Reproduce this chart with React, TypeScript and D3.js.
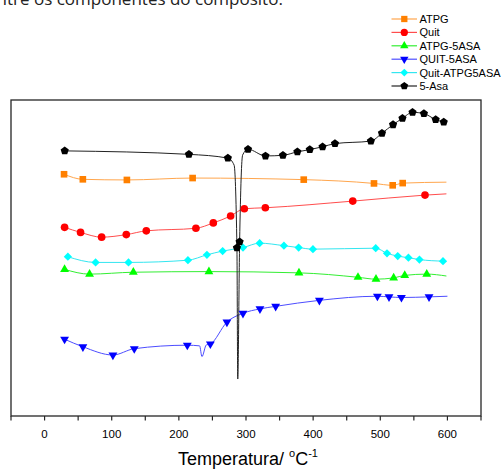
import React from "react";
import * as d3 from "d3";

// ---- data (temperature °C, arbitrary signal units 0..100) ----
const atpgT = [29, 57, 122.6, 220.5, 386, 490.6, 518.5, 533.4];
const atpgV = [76.5, 74.9, 74.7, 75.3, 74.8, 73.6, 73.0, 73.7];
const atpgExtraT = [598.5];
const atpgExtraV = [74.0];

const quitT = [29.8, 53.6, 85, 121.7, 151.5, 225.4, 251.3, 277.1, 297.5, 328.8, 459, 566.6];
const quitV = [59.7, 58.1, 56.6, 57.4, 58.6, 59.4, 61.1, 63.3, 65.6, 65.9, 68.0, 69.9];
const quitExtraT = [598.5];
const quitExtraV = [70.3];

const atpg5T = [29.8, 67, 132.2, 244.8, 378.9, 466.8, 493.6, 519.9, 536.4, 569.2];
const atpg5V = [46.4, 44.9, 45.5, 45.7, 45.3, 43.9, 43.3, 43.7, 44.5, 44.9];
const atpg5ExtraT = [598.5];
const atpg5ExtraV = [44.3];

const quit5T = [29.8, 57.1, 101.8, 133.6, 212.6, 246.9, 271.6, 295.5, 320.8, 344.2, 409.3, 495.7, 513, 531.5, 572.6];
const quit5V = [24.3, 21.9, 19.3, 21.3, 22.4, 22.8, 29.7, 32.5, 33.9, 34.7, 36.6, 37.9, 37.7, 37.5, 37.7];
const quit5ExtraT = [230.9, 234.4, 240.9, 600];
const quit5ExtraV = [22.2, 18.8, 22.5, 37.9];

const mixT = [34.7, 76, 125, 213.5, 241.8, 265.2, 295.5, 320.3, 356.5, 378.4, 399.7, 493.2, 510, 526, 541.9, 558.3, 593.4];
const mixV = [50.4, 48.6, 48.6, 49.3, 51.0, 52.2, 53.3, 54.7, 53.9, 53.3, 52.8, 53.1, 51.5, 50.6, 50.1, 49.5, 49.0];
const mixExtraT: number[] = [];
const mixExtraV: number[] = [];

const asaT = [30, 215, 273, 286.5, 290.5, 303, 329, 355, 376.5, 395, 414, 432.5, 486, 502.5, 519, 533, 548, 565, 582.5, 594.5];
const asaV = [83.9, 82.8, 81.6, 53.2, 55.1, 84.4, 82.3, 82.5, 83.6, 84.3, 85.2, 86.2, 87.0, 89.5, 92.2, 94.2, 96.1, 95.7, 93.8, 93.0];
const asaExtraT = [282.3, 287.7, 295];
const asaExtraV = [79.4, 11.7, 82.6];

const xTicks = [-50, 0, 50, 100, 150, 200, 250, 300, 350, 400, 450, 500, 550, 600, 650];
const xLabels = [0, 100, 200, 300, 400, 500, 600];

const legendNames = ["ATPG", "Quit", "ATPG-5ASA", "QUIT-5ASA", "Quit-ATPG5ASA", "5-Asa"];

// ---- symbols ----
const pentagon = {
  draw(ctx: any, size: number) {
    const r = Math.sqrt(size / 2.378);
    for (let i = 0; i < 5; i++) {
      const a = -Math.PI / 2 + (i * 2 * Math.PI) / 5;
      const px = r * Math.cos(a), py = r * Math.sin(a);
      if (i === 0) ctx.moveTo(px, py); else ctx.lineTo(px, py);
    }
    ctx.closePath();
  },
};

type Series = {
  name: string; t: number[]; v: number[]; et: number[]; ev: number[];
  color: string; lineColor: string; symbol: any; size: number; rotate: number;
};

const series: Series[] = [
  { name: legendNames[0], t: atpgT, v: atpgV, et: atpgExtraT, ev: atpgExtraV, color: "#FF8000", lineColor: "#FFA64D", symbol: d3.symbolSquare, size: 44, rotate: 0 },
  { name: legendNames[1], t: quitT, v: quitV, et: quitExtraT, ev: quitExtraV, color: "#FF0000", lineColor: "#FF4D4D", symbol: d3.symbolCircle, size: 46, rotate: 0 },
  { name: legendNames[2], t: atpg5T, v: atpg5V, et: atpg5ExtraT, ev: atpg5ExtraV, color: "#00FF00", lineColor: "#33EE33", symbol: d3.symbolTriangle, size: 34, rotate: 0 },
  { name: legendNames[3], t: quit5T, v: quit5V, et: quit5ExtraT, ev: quit5ExtraV, color: "#0000FF", lineColor: "#4D4DFF", symbol: d3.symbolTriangle, size: 34, rotate: 180 },
  { name: legendNames[4], t: mixT, v: mixV, et: mixExtraT, ev: mixExtraV, color: "#00FFFF", lineColor: "#33E6F0", symbol: d3.symbolSquare, size: 34, rotate: 45 },
  { name: legendNames[5], t: asaT, v: asaV, et: asaExtraT, ev: asaExtraV, color: "#000000", lineColor: "#222222", symbol: pentagon, size: 44, rotate: 0 },
];

const W = 501, H = 469;
const x = d3.scaleLinear().domain([-50, 650]).range([11, 481]);
const y = d3.scaleLinear().domain([0, 100]).range([416, 100]);

export default function App() {
  const line = d3.line<[number, number]>()
    .x((d) => x(d[0]))
    .y((d) => y(d[1]))
    .curve(d3.curveMonotoneX);

  const font = "'Liberation Sans', Arial, sans-serif";
  const x0 = x(-50), x1 = x(650), yb = y(0), yt = y(100);

  return (
    <div style={{ position: "fixed", left: 0, top: 0 }}>
      <svg width={W} height={H} style={{ display: "block", background: "#fff" }}>
        <text x={-13} y={5} fontFamily="'Open Sans', sans-serif" fontSize={17} fill="#222">
          entre os componentes do composito.
        </text>

        {/* series lines */}
        {series.map((s) => {
          const pts: [number, number][] = s.t.map((t, i) => [t, s.v[i]] as [number, number])
            .concat(s.et.map((t, i) => [t, s.ev[i]] as [number, number]))
            .sort((a, b) => a[0] - b[0]);
          return (
            <path key={s.name + "l"} d={line(pts) || ""} fill="none" stroke={s.lineColor}
              strokeWidth={1} />
          );
        })}

        {/* markers */}
        {series.map((s) => {
          const sym = d3.symbol().type(s.symbol).size(s.size)();
          return (
            <g key={s.name + "m"}>
              {s.t.map((t, i) => (
                <path key={i} d={sym || ""} fill={s.color}
                  transform={`translate(${x(t)},${y(s.v[i])}) rotate(${s.rotate})`} />
              ))}
            </g>
          );
        })}

        {/* frame */}
        <rect x={x0} y={yt} width={x1 - x0} height={yb - yt} fill="none" stroke="#262626" strokeWidth={1.3} />

        {/* x ticks */}
        {xTicks.map((t) => (
          <line key={t} x1={x(t)} x2={x(t)} y1={yb} y2={yb + 4.5} stroke="#262626" strokeWidth={1.2} />
        ))}
        {xLabels.map((t) => (
          <text key={t} x={x(t)} y={437.5} textAnchor="middle" fontFamily={font} fontSize={11.5} fill="#000">
            {t}
          </text>
        ))}

        {/* axis title */}
        <text x={178} y={464.5} fontFamily={font} fontSize={18} fill="#000">
          Temperatura/ <tspan dy={-8} fontSize={11}>o</tspan>
          <tspan dy={8}>C</tspan>
          <tspan dy={-8} fontSize={11}>-1</tspan>
        </text>

        {/* legend */}
        {series.map((s, i) => {
          const ly = 19 + i * 13.4;
          const sym = d3.symbol().type(s.symbol).size(s.size * 0.9)();
          return (
            <g key={s.name + "lg"}>
              <line x1={391.5} x2={417} y1={ly} y2={ly} stroke={s.lineColor} strokeWidth={1.2} />
              <path d={sym || ""} fill={s.color} transform={`translate(404.3,${ly}) rotate(${s.rotate})`} />
              <text x={419.5} y={ly + 4} fontFamily={font} fontSize={11} fill="#000">{s.name}</text>
            </g>
          );
        })}
      </svg>
    </div>
  );
}
